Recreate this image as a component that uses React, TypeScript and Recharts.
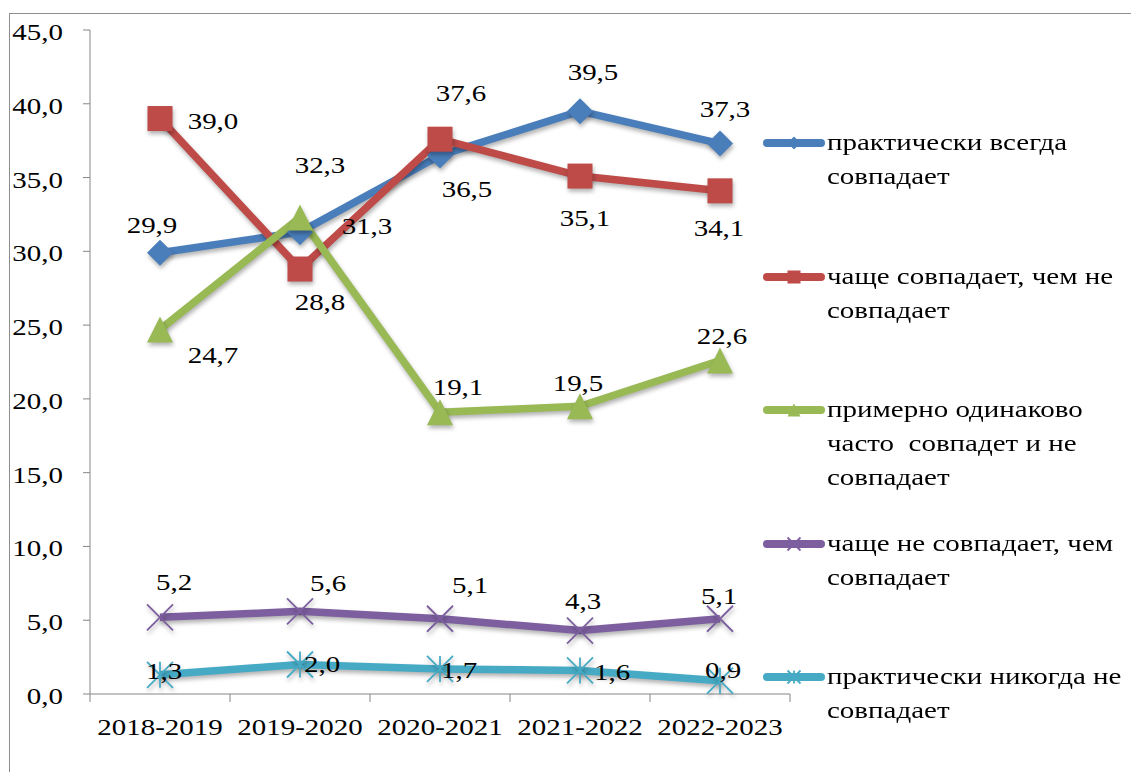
import React from "react";
import { LineChart, Line, XAxis, YAxis, Legend } from "recharts";

const categories = ["2018-2019", "2019-2020", "2020-2021", "2021-2022", "2022-2023"];
const practicallyAlways = [29.9, 31.3, 36.5, 39.5, 37.3];
const moreOftenMatches = [39.0, 28.8, 37.6, 35.1, 34.1];
const aboutEqually = [24.7, 32.3, 19.1, 19.5, 22.6];
const moreOftenNot = [5.2, 5.6, 5.1, 4.3, 5.1];
const practicallyNever = [1.3, 2.0, 1.7, 1.6, 0.9];
const yTicks = [0, 5, 10, 15, 20, 25, 30, 35, 40, 45];

const seriesNames = [
    "практически всегда\nсовпадает",
    "чаще совпадает, чем не\nсовпадает",
    "примерно одинаково\nчасто  совпадет и не\nсовпадает",
    "чаще не совпадает, чем\nсовпадает",
    "практически никогда не\nсовпадает",
];

// label placement (dx, dy from the point), hand-moved like in the original
const labelOffsets: number[][][] = [
    [[-8, -28], [67, -6], [27, 34], [13, -39], [5, -35]],
    [[53, 2], [20, 33], [21, -46], [5, 42], [-1, 37]],
    [[53, 25], [20, -52], [18, -25], [-2, -23], [2, -25]],
    [[14, -35], [28, -28], [30, -34], [3, -30], [-1, -23]],
    [[4, -4], [22, 0], [19, 1], [32, 2], [3, -11]],
];

const FONT = '"Liberation Serif", "Times New Roman", serif';
const FONT_SIZE = 23;
const SX = 1.26; // text in the original is stretched horizontally
const AXIS = "#868686";

const PLOT_LEFT = 90;
const PLOT_RIGHT = 790;
const HALF_STEP = (PLOT_RIGHT - PLOT_LEFT) / categories.length / 2;

type Kind = "diamond" | "square" | "triangle" | "x" | "star";

const series = [
    { key: "s1", values: practicallyAlways, color: "#4A7EBB", kind: "diamond" as Kind },
    { key: "s2", values: moreOftenMatches, color: "#BE4B48", kind: "square" as Kind },
    { key: "s3", values: aboutEqually, color: "#98B954", kind: "triangle" as Kind },
    { key: "s4", values: moreOftenNot, color: "#7D5FA0", kind: "x" as Kind },
    { key: "s5", values: practicallyNever, color: "#46AAC5", kind: "star" as Kind },
];

const data = categories.map((cat, i) => {
    const row: any = { cat };
    series.forEach((s) => (row[s.key] = s.values[i]));
    return row;
});

const fmt = (v: number) => v.toFixed(1).replace(".", ",");

function Marker({ kind, cx, cy, color, size }: { kind: Kind; cx: number; cy: number; color: string; size: number }) {
    const h = size / 2;
    switch (kind) {
        case "diamond":
            return <polygon points={`${cx},${cy - h} ${cx + h},${cy} ${cx},${cy + h} ${cx - h},${cy}`} fill={color} />;
        case "square":
            return <rect x={cx - h} y={cy - h} width={size} height={size} fill={color} />;
        case "triangle":
            return <polygon points={`${cx},${cy - h} ${cx + h},${cy + h} ${cx - h},${cy + h}`} fill={color} />;
        case "x":
            return (
                <path
                    d={`M${cx - h},${cy - h}L${cx + h},${cy + h}M${cx - h},${cy + h}L${cx + h},${cy - h}`}
                    stroke={color}
                    strokeWidth={1.8}
                    fill="none"
                />
            );
        default:
            return (
                <path
                    d={`M${cx - h},${cy - h}L${cx + h},${cy + h}M${cx - h},${cy + h}L${cx + h},${cy - h}M${cx},${cy - h}L${cx},${cy + h}`}
                    stroke={color}
                    strokeWidth={1.8}
                    fill="none"
                />
            );
    }
}

const StretchText = ({ x, y, anchor, children }: any) => (
    <text
        transform={`translate(${x},${y}) scale(${SX},1)`}
        textAnchor={anchor}
        fontFamily={FONT}
        fontSize={FONT_SIZE}
        fill="#000"
    >
        {children}
    </text>
);

const YTick = ({ x, y, payload }: any) => (
    <StretchText x={x} y={y + 10} anchor="end">
        {fmt(payload.value)}
    </StretchText>
);

const XTick = ({ x, y, payload, index }: any) => (
    <g>
        <line x1={x - HALF_STEP} x2={x - HALF_STEP} y1={y} y2={y + 8} stroke={AXIS} />
        {index === categories.length - 1 && (
            <line x1={x + HALF_STEP} x2={x + HALF_STEP} y1={y} y2={y + 8} stroke={AXIS} />
        )}
        <StretchText x={x} y={y + 41} anchor="middle">
            {payload.value}
        </StretchText>
    </g>
);

const makeLabel = (si: number) => (props: any) => {
    const { x, y, value, index } = props;
    const [dx, dy] = labelOffsets[si][index];
    return (
        <StretchText key={`lbl-${si}-${index}`} x={x + dx} y={y + dy + 8} anchor="middle">
            {fmt(value)}
        </StretchText>
    );
};

const makeDot = (kind: Kind, color: string) => (props: any) => {
    const { cx, cy, index } = props;
    return (
        <g key={`dot-${kind}-${index}`}>
            <Marker kind={kind} cx={cx} cy={cy} color={color} size={kind === "square" ? 25 : 26} />
        </g>
    );
};

const LegendBox = () => (
    <div style={{ fontFamily: FONT, fontSize: FONT_SIZE, color: "#000" }}>
        {series.map((s, i) => (
            <div key={s.key} style={{ height: 133.5, position: "relative" }}>
                <svg width={62} height={20} style={{ position: "absolute", left: 0, top: 7 }}>
                    <line x1={4} x2={58} y1={10} y2={10} stroke={s.color} strokeWidth={8} strokeLinecap="round" />
                    <Marker kind={s.kind} cx={31} cy={10} color={s.color} size={13} />
                </svg>
                <div
                    style={{
                        position: "absolute",
                        left: 64,
                        top: 0,
                        whiteSpace: "pre",
                        lineHeight: "34px",
                        transform: `scaleX(${SX})`,
                        transformOrigin: "left top",
                    }}
                >
                    {seriesNames[i]}
                </div>
            </div>
        ))}
    </div>
);

export default function App() {
    return (
        <div style={{ position: "absolute", left: 0, top: 0, width: 1131, height: 772, background: "#fff", overflow: "hidden" }}>
            <style>{`.recharts-line-curve, .recharts-line-dots { filter: drop-shadow(1px 3px 2px rgba(0,0,0,0.3)); }`}</style>
            <div
                style={{
                    position: "absolute",
                    left: 9,
                    top: 13,
                    width: 1122,
                    height: 759,
                    borderLeft: "1px solid #8e8e8e",
                    borderTop: "1px solid #8e8e8e",
                }}
            />
            <div style={{ position: "absolute", left: 0, top: 0 }}>
                <LineChart width={1131} height={772} data={data} margin={{ top: 30, right: 341, bottom: 0, left: 0 }}>
                    <XAxis
                        dataKey="cat"
                        height={78}
                        padding={{ left: HALF_STEP, right: HALF_STEP }}
                        axisLine={{ stroke: AXIS }}
                        tickLine={false}
                        tickSize={0}
                        tickMargin={0}
                        interval={0}
                        tick={<XTick />}
                    />
                    <YAxis
                        type="number"
                        width={90}
                        domain={[0, 45]}
                        ticks={yTicks}
                        interval={0}
                        axisLine={{ stroke: AXIS }}
                        tickLine={{ stroke: AXIS }}
                        tickSize={7}
                        tickMargin={20}
                        tick={<YTick />}
                    />
                    <Legend
                        layout="vertical"
                        align="center"
                        verticalAlign="middle"
                        content={<LegendBox />}
                        wrapperStyle={{ left: 763, top: 126, width: 368 }}
                    />
                    {series.map((s) => (
                        <Line
                            key={s.key}
                            dataKey={s.key}
                            stroke={s.color}
                            strokeWidth={7.5}
                            strokeLinejoin="round"
                            dot={makeDot(s.kind, s.color)}
                            activeDot={false}
                            isAnimationActive={false}
                        />
                    ))}
                    {series.map((s, si) => (
                        <Line
                            key={`${s.key}-labels`}
                            dataKey={s.key}
                            stroke="none"
                            dot={false}
                            activeDot={false}
                            legendType="none"
                            isAnimationActive={false}
                            label={makeLabel(si)}
                        />
                    ))}
                </LineChart>
            </div>
        </div>
    );
}
